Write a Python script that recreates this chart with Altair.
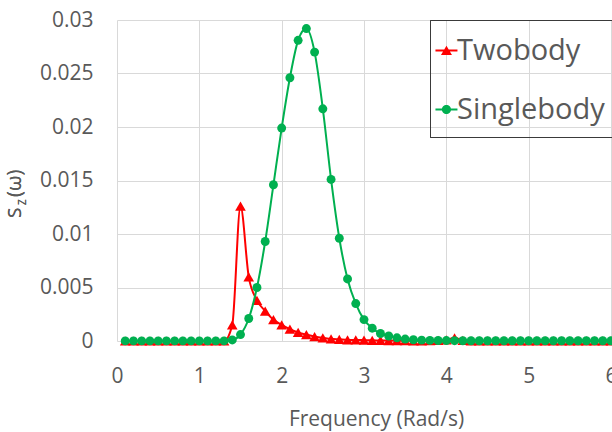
import altair as alt
import pandas as pd

# ---------------- data ----------------
freq = [0.1, 0.2, 0.3, 0.4, 0.5, 0.6, 0.7, 0.8, 0.9, 1.0,
        1.1, 1.2, 1.3, 1.4, 1.5, 1.6, 1.7, 1.8, 1.9, 2.0,
        2.1, 2.2, 2.3, 2.4, 2.5, 2.6, 2.7, 2.8, 2.9, 3.0,
        3.1, 3.2, 3.3, 3.4, 3.5, 3.6, 3.7, 3.8, 3.9, 4.0,
        4.1, 4.2, 4.3, 4.4, 4.5, 4.6, 4.7, 4.8, 4.9, 5.0,
        5.1, 5.2, 5.3, 5.4, 5.5, 5.6, 5.7, 5.8, 5.9, 6.0]

twobody = [0, 0, 0, 0, 0, 0, 0, 0, 0, 0,
           0, 0, 0, 0.0015, 0.0126, 0.0060, 0.0038, 0.0028, 0.0020, 0.0015,
           0.0011, 0.0008, 0.0006, 0.0004, 0.0003, 0.0002, 0.00015, 0.0001, 0.0001, 0.00008,
           0.00006, 0.00005, 0.00004, 0.00003, 0.00003, 0.00002, 0.00002, 0.00004, 0.00005, 0.0001,
           0.0003, 0.00005, 0.00001, 0.00001, 0.00001, 0.00001, 0.00001, 0.00001, 0.00001, 0.00001,
           0.00001, 0.00001, 0.00001, 0.00001, 0.00001, 0.00001, 0.00001, 0.00001, 0.00001, 0.00001]

singlebody = [0.00001, 0.00001, 0.00001, 0.00001, 0.00001, 0.00001, 0.00001, 0.00001, 0.00001, 0.00001,
              0.00001, 0.00001, 0.00001, 0.0001, 0.0006, 0.0021, 0.0050, 0.0093, 0.0146, 0.0199,
              0.0246, 0.0281, 0.0292, 0.0270, 0.0217, 0.0151, 0.0096, 0.0058, 0.0035, 0.0020,
              0.0012, 0.0007, 0.00047, 0.0003, 0.00018, 0.00012, 0.00008, 0.00006, 0.00005, 0.00004,
              0.00003, 0.00002, 0.00002, 0.00002, 0.00002, 0.00002, 0.00002, 0.00002, 0.00002, 0.00002,
              0.00002, 0.00002, 0.00002, 0.00002, 0.00002, 0.00002, 0.00002, 0.00002, 0.00002, 0.00002]

series_names = ["Twobody", "Singlebody"]
series_colors = ["#FF0000", "#00B050"]
x_ticks = [0, 1, 2, 3, 4, 5, 6]
y_ticks = [0, 0.005, 0.01, 0.015, 0.02, 0.025, 0.03]

# ---------------- styling ----------------
FONT = "Open Sans"
GRAY = "#595959"
GRID = "#D9D9D9"

df = pd.DataFrame({"freq": freq, "Twobody": twobody, "Singlebody": singlebody})
long = df.melt("freq", var_name="series", value_name="val")

x_enc = alt.X("freq:Q", scale=alt.Scale(domain=[0, 6], nice=False),
              axis=alt.Axis(values=x_ticks, title="Frequency (Rad/s)", labelFlush=False,
                            labelBaseline="alphabetic", labelPadding=41,
                            titleX=259, titleY=84, titleAlign="center",
                            titleBaseline="alphabetic"))
y_enc = alt.Y("val:Q", scale=alt.Scale(domain=[0, 0.03], nice=False),
              axis=alt.Axis(values=y_ticks, format="~g", labelPadding=24), title=None)

def series_layers(name, color, shape, size):
    base = alt.Chart(long).transform_filter(alt.datum.series == name)
    line = base.mark_line(color=color, strokeWidth=2, interpolate="monotone").encode(x=x_enc, y=y_enc)
    pts = base.mark_point(shape=shape, filled=True, color=color, size=size, opacity=1).encode(x=x_enc, y=y_enc)
    return [line, pts]

red_layers = series_layers("Twobody", series_colors[0], "triangle-up", 114)
green_layers = series_layers("Singlebody", series_colors[1], "circle", 80)

# legend (line + marker symbols), shifted right inside the symbol box
tri_path = "M-0.64,-0.09H1.36V0.09H-0.64Z M0.36,-0.43L0.86,0.4L-0.14,0.4Z"
circ_path = "M-0.64,-0.09H1.36V0.09H-0.64Z M-0.06,0A0.42,0.42,0,1,1,0.78,0A0.42,0.42,0,1,1,-0.06,0Z"
leg = alt.Legend(orient="none", legendX=311, legendY=16, padding=0,
                 labelFont=FONT, labelFontSize=29, labelColor=GRAY, labelOffset=0,
                 symbolSize=484, symbolStrokeWidth=0, symbolOpacity=1, rowPadding=29)
leg_df = pd.DataFrame({"series": series_names, "freq": [-1, -1], "val": [-1, -1]})
legend_layer = alt.Chart(leg_df).mark_point(filled=True, opacity=1, size=484, clip=True,
                                            strokeWidth=0).encode(
    x=x_enc, y=y_enc,
    color=alt.Color("series:N", scale=alt.Scale(domain=series_names, range=series_colors),
                    legend=leg, title=None),
    shape=alt.Shape("series:N", scale=alt.Scale(domain=series_names, range=[tri_path, circ_path]),
                    legend=leg, title=None),
)

legend_box = alt.Chart(leg_df).mark_rect(fill="transparent", stroke="#3A3A3A", strokeWidth=1).encode(
    x=alt.value(313.5), x2=alt.value(560), y=alt.value(0.5), y2=alt.value(117.5))

# y-axis title  S_Z(ω)
ytitle_s = alt.Chart(leg_df).mark_text(text="S", angle=270, align="left", baseline="alphabetic",
                                       font=FONT, fontSize=19, color=GRAY).encode(
    x=alt.value(-96), y=alt.value(198))
ytitle_z = alt.Chart(leg_df).mark_text(text="Z", angle=270, align="left", baseline="alphabetic",
                                       font=FONT, fontSize=10, color=GRAY).encode(
    x=alt.value(-91), y=alt.value(185))
ytitle_w = alt.Chart(leg_df).mark_text(text="(ω)", angle=270, align="left", baseline="alphabetic",
                                       font=FONT, fontSize=20, color=GRAY).encode(
    x=alt.value(-96), y=alt.value(177))

chart = alt.layer(
    *red_layers, *green_layers, legend_layer, legend_box, ytitle_s, ytitle_z, ytitle_w
).properties(
    width=494, height=321,
    autosize=alt.AutoSizeParams(type="none"),
    padding={"left": 117, "top": 20, "right": 1, "bottom": 91},
    background="white",
).configure_view(strokeWidth=0).configure_axis(
    grid=True, gridColor=GRID, gridWidth=1, domain=False, ticks=False, tickSize=0,
    labelFont=FONT, labelFontSize=21, labelColor=GRAY,
    titleFont=FONT, titleFontSize=21, titleColor=GRAY, titleFontWeight="normal",
)

chart.save("out.html", embed_options={"renderer": "svg", "actions": False})
